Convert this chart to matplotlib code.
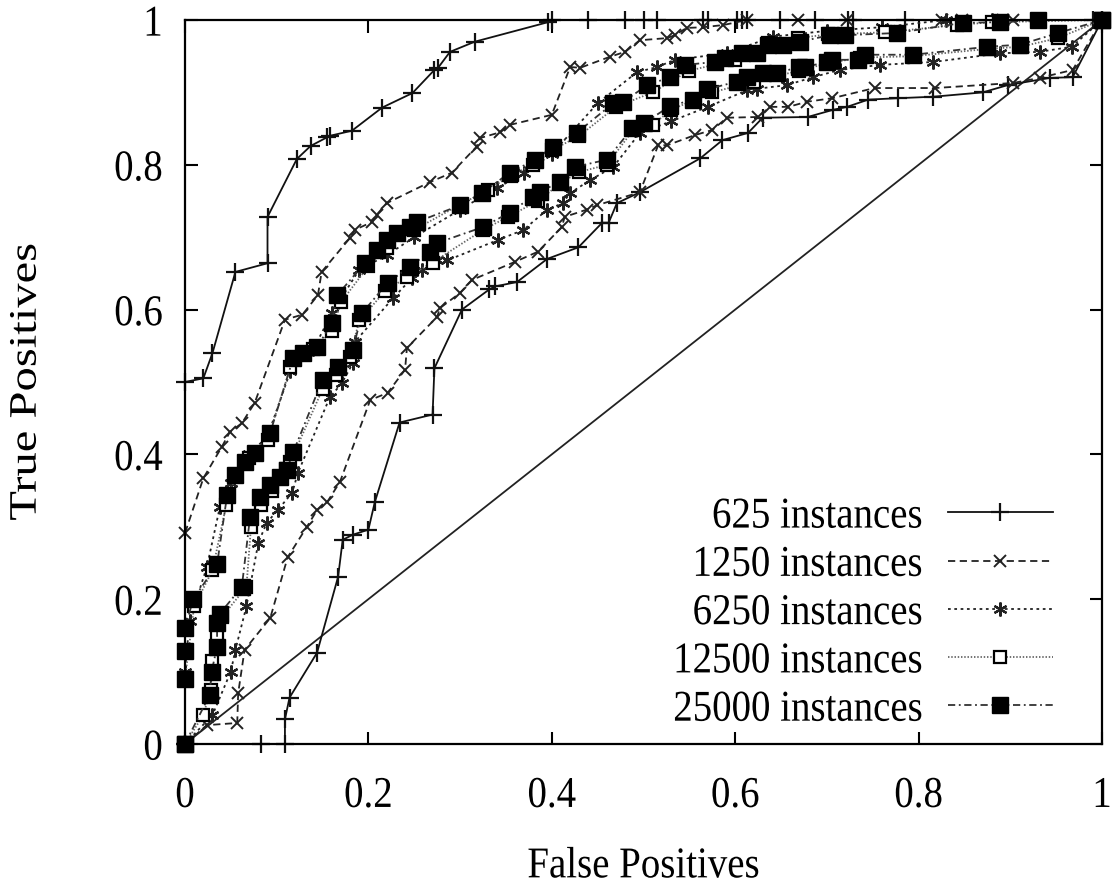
import matplotlib
matplotlib.use("Agg")
import matplotlib.pyplot as plt
from matplotlib.patheffects import AbstractPathEffect
from matplotlib.transforms import Affine2D
import numpy as np

# ## DATA ################################################################## #
# each series is two ROC branches (upper and lower), drawn as separate curves

LABELS = ["625 instances", "1250 instances", "6250 instances",
          "12500 instances", "25000 instances"]

FP_625_A = [0, 0, 0.02, 0.03, 0.055, 0.09, 0.09, 0.122, 0.137, 0.155, 0.158,
            0.182, 0.215, 0.248, 0.272, 0.276, 0.289, 0.316, 0.396, 0.4, 0.44,
            0.48, 0.5, 0.515, 0.565, 0.57, 0.602, 0.607, 0.613, 0.649, 0.687,
            0.723, 0.728, 0.785, 0.99, 1]
TP_625_A = [0, 0.5, 0.505, 0.54, 0.652, 0.664, 0.728, 0.808, 0.826, 0.838, 0.84,
            0.847, 0.879, 0.899, 0.931, 0.934, 0.956, 0.97, 0.997, 1, 1,
            1, 1, 1, 1, 1, 1, 1, 1, 1, 1,
            1, 1, 1, 1, 1]
FP_625_B = [0, 0.083, 0.109, 0.109, 0.114, 0.144, 0.167, 0.172, 0.183, 0.2,
            0.207, 0.234, 0.27, 0.272, 0.302, 0.332, 0.338, 0.362, 0.395, 0.429,
            0.455, 0.462, 0.471, 0.496, 0.562, 0.586, 0.614, 0.63, 0.679, 0.707,
            0.722, 0.745, 0.778, 0.816, 0.87, 0.897, 0.943, 0.968, 1]
TP_625_B = [0, 0, 0, 0.034, 0.064, 0.126, 0.231, 0.282, 0.289, 0.296,
            0.334, 0.444, 0.455, 0.519, 0.6, 0.628, 0.632, 0.638, 0.67, 0.686,
            0.72, 0.72, 0.747, 0.762, 0.809, 0.834, 0.844, 0.865, 0.866, 0.876,
            0.88, 0.89, 0.892, 0.894, 0.9, 0.91, 0.92, 0.921, 1]

FP_1250_A = [0, 0, 0.02, 0.04, 0.049, 0.062, 0.076, 0.109, 0.128, 0.145, 0.149,
             0.18, 0.185, 0.204, 0.209, 0.22, 0.267, 0.291, 0.318, 0.322, 0.344,
             0.354, 0.4, 0.42, 0.431, 0.463, 0.48, 0.496, 0.526, 0.534, 0.547,
             0.565, 0.587, 0.613, 0.668, 0.722, 0.826, 0.847, 0.892, 0.903, 1]
TP_1250_A = [0, 0.291, 0.367, 0.41, 0.431, 0.443, 0.471, 0.586, 0.593, 0.62, 0.652,
             0.699, 0.71, 0.721, 0.731, 0.747, 0.776, 0.789, 0.825, 0.837, 0.845,
             0.855, 0.869, 0.935, 0.934, 0.949, 0.956, 0.972, 0.975, 0.979, 0.989,
             0.99, 0.993, 1, 1, 1, 1, 1, 1, 1, 1]
FP_1250_B = [0, 0.024, 0.057, 0.058, 0.065, 0.093, 0.112, 0.133, 0.144, 0.155,
             0.169, 0.202, 0.221, 0.24, 0.242, 0.275, 0.278, 0.3, 0.313, 0.36,
             0.385, 0.411, 0.414, 0.438, 0.449, 0.496, 0.516, 0.526, 0.556, 0.575,
             0.591, 0.625, 0.638, 0.658, 0.678, 0.706, 0.752, 0.818, 0.903, 0.932,
             0.968, 1]
TP_1250_B = [0, 0.026, 0.029, 0.07, 0.13, 0.174, 0.258, 0.3, 0.323, 0.334,
             0.362, 0.475, 0.485, 0.517, 0.547, 0.59, 0.602, 0.623, 0.641, 0.666,
             0.68, 0.714, 0.728, 0.738, 0.744, 0.762, 0.827, 0.827, 0.841, 0.848,
             0.865, 0.866, 0.88, 0.88, 0.887, 0.892, 0.906, 0.906, 0.913, 0.92,
             0.931, 1]

FP_6250_A = [0, 0, 0.005, 0.024, 0.038, 0.05, 0.07, 0.09, 0.115, 0.14, 0.16,
             0.19, 0.22, 0.25, 0.3, 0.34, 0.37, 0.4, 0.45, 0.493, 0.515, 0.534,
             0.591, 0.641, 0.7, 0.76, 0.83, 0.88, 1]
TP_6250_A = [0, 0.1, 0.17, 0.245, 0.327, 0.36, 0.4, 0.425, 0.515, 0.545, 0.595,
             0.655, 0.675, 0.7, 0.738, 0.768, 0.788, 0.815, 0.885, 0.928, 0.935, 0.945,
             0.954, 0.977, 0.985, 0.99, 1, 1, 1]
FP_6250_B = [0, 0.03, 0.05, 0.055, 0.067, 0.08, 0.089, 0.101, 0.117, 0.123,
             0.158, 0.171, 0.183, 0.185, 0.227, 0.248, 0.258, 0.275, 0.286, 0.341,
             0.369, 0.395, 0.412, 0.42, 0.442, 0.467, 0.496, 0.53, 0.57, 0.613,
             0.624, 0.656, 0.685, 0.714, 0.758, 0.816, 0.889, 0.932, 0.967, 1]
TP_6250_B = [0, 0.04, 0.1, 0.13, 0.19, 0.278, 0.305, 0.323, 0.347, 0.374,
             0.479, 0.498, 0.526, 0.555, 0.616, 0.644, 0.655, 0.668, 0.668, 0.696,
             0.71, 0.738, 0.747, 0.761, 0.779, 0.797, 0.844, 0.86, 0.88, 0.903,
             0.905, 0.91, 0.921, 0.931, 0.938, 0.942, 0.954, 0.956, 0.963, 1]

FP_12500_A = [0, 0, 0.01, 0.03, 0.045, 0.055, 0.07, 0.09, 0.115, 0.14, 0.16,
              0.17, 0.2, 0.22, 0.25, 0.3, 0.33, 0.355, 0.38, 0.4, 0.43, 0.47,
              0.51, 0.55, 0.6, 0.636, 0.668, 0.701, 0.763, 0.842, 0.88, 1]
TP_12500_A = [0, 0.09, 0.19, 0.24, 0.33, 0.37, 0.395, 0.42, 0.52, 0.545, 0.57,
              0.61, 0.66, 0.685, 0.71, 0.745, 0.765, 0.785, 0.8, 0.82, 0.84, 0.88,
              0.9, 0.93, 0.945, 0.968, 0.975, 0.98, 0.983, 0.993, 0.997, 1]
FP_12500_B = [0, 0.02, 0.028, 0.03, 0.035, 0.04, 0.067, 0.072, 0.083, 0.095,
              0.11, 0.115, 0.15, 0.165, 0.18, 0.19, 0.218, 0.242, 0.27, 0.325,
              0.352, 0.385, 0.41, 0.43, 0.46, 0.49, 0.51, 0.53, 0.575, 0.62,
              0.67, 0.7, 0.736, 0.794, 0.875, 0.911, 0.952, 1]
TP_12500_B = [0, 0.04, 0.075, 0.115, 0.15, 0.175, 0.217, 0.3, 0.33, 0.35,
              0.38, 0.39, 0.49, 0.51, 0.535, 0.585, 0.625, 0.645, 0.665, 0.71,
              0.728, 0.75, 0.775, 0.79, 0.8, 0.85, 0.855, 0.876, 0.9, 0.915,
              0.93, 0.94, 0.948, 0.95, 0.96, 0.963, 0.975, 1]

FP_25000_A = [0, 0, 0, 0, 0.009, 0.035, 0.046, 0.055, 0.065, 0.076, 0.093,
              0.118, 0.129, 0.144, 0.16, 0.166, 0.196, 0.209, 0.22, 0.231, 0.245,
              0.253, 0.3, 0.324, 0.354, 0.382, 0.401, 0.427, 0.467, 0.478, 0.504,
              0.529, 0.545, 0.578, 0.589, 0.607, 0.624, 0.636, 0.652, 0.671, 0.703,
              0.72, 0.776, 0.848, 0.889, 0.93, 1]
TP_25000_A = [0, 0.09, 0.128, 0.16, 0.2, 0.248, 0.344, 0.372, 0.389, 0.402, 0.43,
              0.533, 0.54, 0.548, 0.581, 0.62, 0.664, 0.682, 0.696, 0.706, 0.714,
              0.721, 0.744, 0.761, 0.789, 0.807, 0.825, 0.844, 0.885, 0.887, 0.91,
              0.921, 0.938, 0.942, 0.948, 0.954, 0.954, 0.965, 0.965, 0.97, 0.979,
              0.979, 0.982, 0.996, 0.997, 1, 1]
FP_25000_B = [0, 0.027, 0.029, 0.035, 0.035, 0.038, 0.062, 0.071, 0.082, 0.093,
              0.104, 0.111, 0.118, 0.15, 0.167, 0.183, 0.193, 0.221, 0.245, 0.267,
              0.275, 0.325, 0.354, 0.379, 0.387, 0.409, 0.425, 0.46, 0.488, 0.501,
              0.529, 0.554, 0.569, 0.602, 0.613, 0.63, 0.646, 0.67, 0.676, 0.7,
              0.705, 0.734, 0.742, 0.794, 0.875, 0.911, 0.952, 1]
TP_25000_B = [0, 0.068, 0.1, 0.134, 0.167, 0.18, 0.217, 0.314, 0.341, 0.358,
              0.369, 0.379, 0.403, 0.503, 0.52, 0.544, 0.595, 0.637, 0.659, 0.68,
              0.692, 0.714, 0.734, 0.756, 0.763, 0.776, 0.797, 0.807, 0.851, 0.858,
              0.881, 0.89, 0.904, 0.915, 0.921, 0.927, 0.927, 0.935, 0.935, 0.942,
              0.945, 0.945, 0.952, 0.952, 0.963, 0.966, 0.982, 1]

DIAG_X = [0, 1]
DIAG_Y = [0, 1]

TICKS = [0, 0.2, 0.4, 0.6, 0.8, 1]
TICK_LABELS = ["0", "0.2", "0.4", "0.6", "0.8", "1"]

# ## STYLE ################################################################# #

STYLES = [
    dict(color="#111111", linestyle="-", marker="+", markersize=13, mew=1.6),
    dict(color="#222222", linestyle=(0, (4, 2.5)), marker="x", markersize=9, mew=1.4),
    dict(color="#222222", linestyle=(0, (1.5, 2)), marker=(6, 2, 0), markersize=10, mew=1.6),
    dict(color="#666666", linestyle=(0, (0.8, 1)), marker="s", markersize=9, mew=1.6,
         mfc="white", mec="#000000"),
    dict(color="#333333", linestyle=(0, (4, 2, 1, 2)), marker="s", markersize=11, mew=1,
         mfc="#000000", mec="#000000"),
]


class Stretch(AbstractPathEffect):
    """draw text glyphs stretched about their own centre (gnuplot output was scaled)"""

    def __init__(self, sx=1.0, sy=1.0):
        super().__init__()
        self.sx, self.sy = sx, sy

    def draw_path(self, renderer, gc, tpath, affine, rgbFace=None):
        ext = tpath.get_extents()
        cx, cy = (ext.x0 + ext.x1) / 2, (ext.y0 + ext.y1) / 2
        pre = Affine2D().translate(-cx, -cy).scale(self.sx, self.sy).translate(cx, cy)
        renderer.draw_path(gc, tpath, pre + affine, rgbFace)


TALL = [Stretch(1.0, 1.13)]

plt.rcParams.update({"font.family": ["Liberation Serif", "DejaVu Serif"],
                     "font.size": 28})

fig = plt.figure(figsize=(11.17, 8.88), dpi=100)
ax = fig.add_axes([0.1656, 0.1622, 0.821, 0.8153])

ax.plot(DIAG_X, DIAG_Y, color="#222222", lw=1.3)

series = [(FP_625_A, TP_625_A, FP_625_B, TP_625_B),
          (FP_1250_A, TP_1250_A, FP_1250_B, TP_1250_B),
          (FP_6250_A, TP_6250_A, FP_6250_B, TP_6250_B),
          (FP_12500_A, TP_12500_A, FP_12500_B, TP_12500_B),
          (FP_25000_A, TP_25000_A, FP_25000_B, TP_25000_B)]

for label, (xa, ya, xb, yb), st in zip(LABELS, series, STYLES):
    ax.plot(xa, ya, lw=1.3, label=label, clip_on=False, **st)
    ax.plot(xb, yb, lw=1.3, clip_on=False, **st)

ax.set_xlim(0, 1)
ax.set_ylim(0, 1)
ax.set_xticks(TICKS)
ax.set_xticklabels(TICK_LABELS)
ax.set_yticks(TICKS)
ax.set_yticklabels(TICK_LABELS)
ax.tick_params(direction="in", length=9, width=1.5, top=True, right=True)
ax.tick_params(axis="y", pad=16)
ax.tick_params(axis="x", pad=24)
for sp in ax.spines.values():
    sp.set_linewidth(1.6)

for t in ax.get_xticklabels() + ax.get_yticklabels():
    t.set_path_effects(TALL)

ax.set_xlabel("False Positives", labelpad=24, path_effects=TALL)
ax.set_ylabel("True Positives", labelpad=50, path_effects=[Stretch(1.25, 1.0)])

leg = ax.legend(loc="lower right", bbox_to_anchor=(0.946, 0.022), frameon=False,
                markerfirst=False, handlelength=2.7, handletextpad=0.64,
                labelspacing=0.29, borderpad=0, borderaxespad=0)
for t in leg.get_texts():
    t.set_path_effects(TALL)

fig.savefig("out.png", dpi=100, facecolor="white")
